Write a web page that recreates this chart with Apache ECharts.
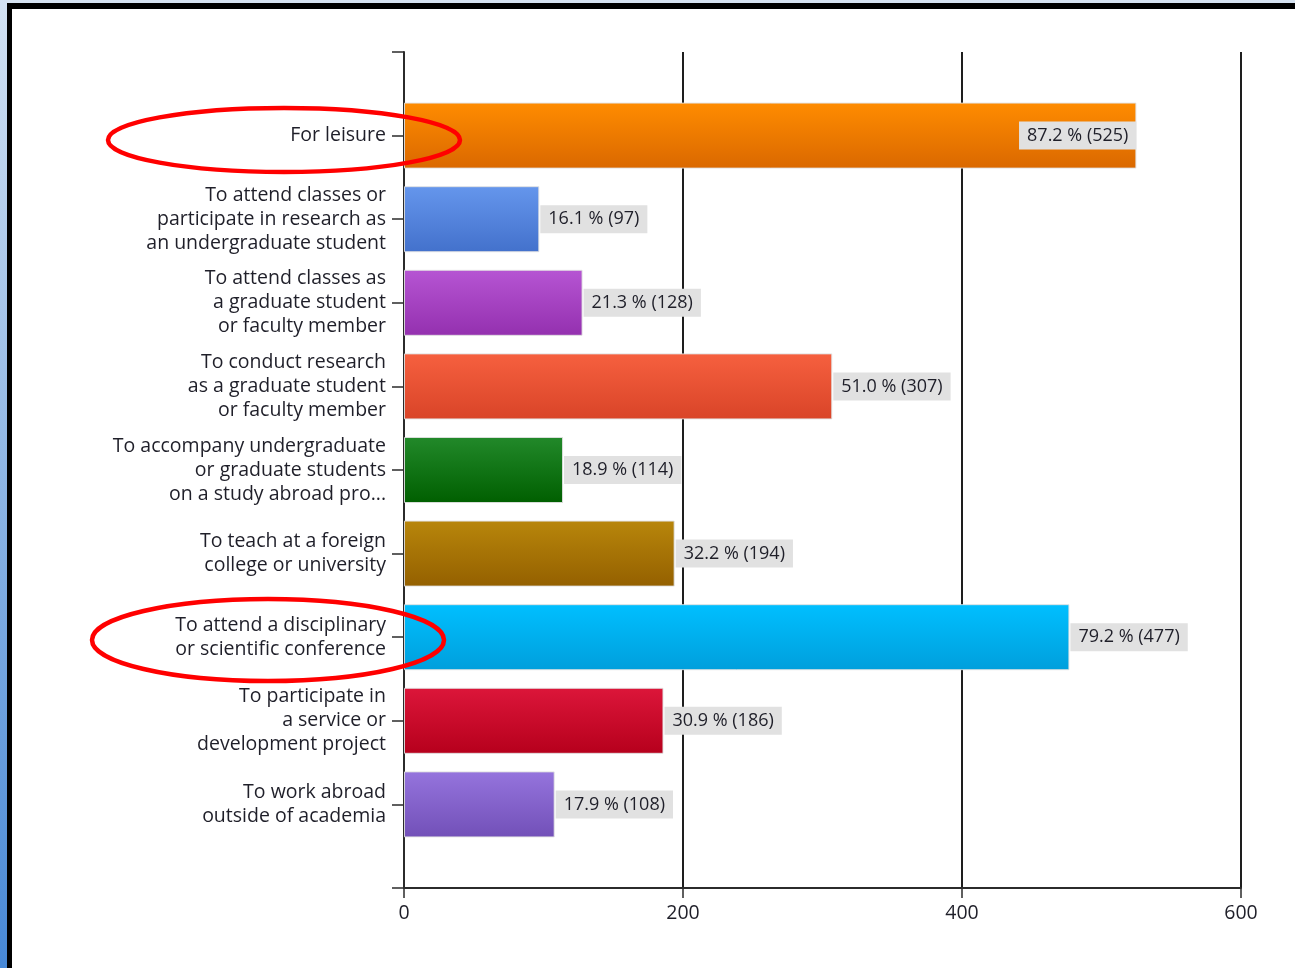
<!DOCTYPE html>
<html>
<head>
<meta charset="utf-8">
<script src="https://cdn.jsdelivr.net/npm/echarts@6/dist/echarts.min.js"></script>
<style>
  html, body { margin: 0; padding: 0; background: #ffffff; }
  #chart { width: 1295px; height: 968px; }
</style>
</head>
<body>
<div id="chart"></div>
<script>
// Reasons for travelling abroad (respondents, n = 602)
const categories = [
  'For leisure',
  'To attend classes or\nparticipate in research as\nan undergraduate student',
  'To attend classes as\na graduate student\nor faculty member',
  'To conduct research\nas a graduate student\nor faculty member',
  'To accompany undergraduate\nor graduate students\non a study abroad pro...',
  'To teach at a foreign\ncollege or university',
  'To attend a disciplinary\nor scientific conference',
  'To participate in\na service or\ndevelopment project',
  'To work abroad\noutside of academia'
];
const counts = [525, 97, 128, 307, 114, 194, 477, 186, 108];
const percents = ['87.2', '16.1', '21.3', '51.0', '18.9', '32.2', '79.2', '30.9', '17.9'];
const xTicks = [0, 200, 400, 600];

// gradient stops per bar: [top, bottom]
const barColors = [
  ['#FF8C00', '#DA6800'],
  ['#6596EC', '#4371CC'],
  ['#B655D3', '#9430AF'],
  ['#F6603F', '#D94428'],
  ['#22892A', '#005F00'],
  ['#B8860B', '#946000'],
  ['#00BFFF', '#009FDC'],
  ['#DC163A', '#B6001C'],
  ['#9574DD', '#7250B8']
];

// empty slots above and below the bars so the axis runs past them
const yCats = [''].concat(categories, ['']);

const FONT = 'Open Sans';
const TEXT = '#1f1f29';

const seriesData = [null];
counts.forEach((v, i) => {
  const first = i === 0;
  seriesData.push({
    value: v,
    itemStyle: {
      color: new echarts.graphic.LinearGradient(0, 0, 0, 1, [
        { offset: 0, color: barColors[i][0] },
        { offset: 1, color: barColors[i][1] }
      ])
    },
    label: {
      position: first ? 'insideRight' : 'right',
      distance: first ? 0 : 1
    }
  });
});
seriesData.push(null);

const chart = echarts.init(document.getElementById('chart'), null, { renderer: 'canvas' });

chart.setOption({
  backgroundColor: '#ffffff',
  animation: false,
  grid: {
    left: 404, right: 54, top: 52, bottom: 80,
    containLabel: false,
    outerBoundsMode: 'none'
  },
  xAxis: {
    type: 'value',
    min: xTicks[0],
    max: xTicks[xTicks.length - 1],
    interval: xTicks[1] - xTicks[0],
    axisLine: { show: true, lineStyle: { color: '#2b2b2b', width: 2 } },
    axisTick: { show: true, length: 10, inside: false, lineStyle: { color: '#2b2b2b', width: 1.5 } },
    splitLine: { show: true, lineStyle: { color: '#1e1e1e', width: 2 } },
    axisLabel: {
      color: TEXT, fontFamily: FONT, fontSize: 19.5, margin: 15
    }
  },
  yAxis: {
    type: 'category',
    data: yCats,
    inverse: true,
    boundaryGap: false,
    axisLine: { show: true, lineStyle: { color: '#2b2b2b', width: 2 } },
    axisTick: { show: true, length: 12, inside: false, lineStyle: { color: '#2b2b2b', width: 1.5 } },
    splitLine: { show: false },
    axisLabel: {
      color: TEXT, fontFamily: FONT, fontSize: 19.5, lineHeight: 24,
      margin: 18, align: 'right', interval: 0,
      backgroundColor: 'rgba(255,255,255,0)',
      padding: [6, 0, 0, 0]
    }
  },
  series: [{
    type: 'bar',
    data: seriesData,
    barWidth: 66,
    z: 3,
    itemStyle: {
      borderColor: 'rgba(225,225,225,0.9)',
      borderWidth: 1
    },
    label: {
      show: true,
      color: TEXT,
      fontFamily: FONT,
      fontSize: 18,
      backgroundColor: '#e1e1e1',
      padding: [6, 8, 4, 8],
      formatter: p => {
        const i = p.dataIndex - 1;
        return percents[i] + ' % (' + counts[i] + ')';
      }
    }
  }],
  graphic: [
    // window frame
    {
      type: 'rect', z: 100, silent: true,
      shape: { x: 0, y: 0, width: 7, height: 968 },
      style: {
        fill: new echarts.graphic.LinearGradient(0, 0, 0, 1, [
          { offset: 0, color: '#d3e2f3' },
          { offset: 1, color: '#4788d6' }
        ])
      }
    },
    { type: 'rect', z: 100, silent: true, shape: { x: 7, y: 0, width: 1288, height: 3 }, style: { fill: '#d6e3f1' } },
    { type: 'rect', z: 101, silent: true, shape: { x: 7, y: 3, width: 1288, height: 6 }, style: { fill: '#000000' } },
    { type: 'rect', z: 101, silent: true, shape: { x: 7, y: 3, width: 5, height: 965 }, style: { fill: '#000000' } },
    // highlight rings
    {
      type: 'ellipse', z: 110, silent: true,
      shape: { cx: 284, cy: 140, rx: 176, ry: 32 },
      style: { fill: 'none', stroke: '#ff0000', lineWidth: 4.5 }
    },
    {
      type: 'ellipse', z: 110, silent: true,
      shape: { cx: 268, cy: 640, rx: 176, ry: 41 },
      style: { fill: 'none', stroke: '#ff0000', lineWidth: 4.5 }
    }
  ]
});
</script>
</body>
</html>
